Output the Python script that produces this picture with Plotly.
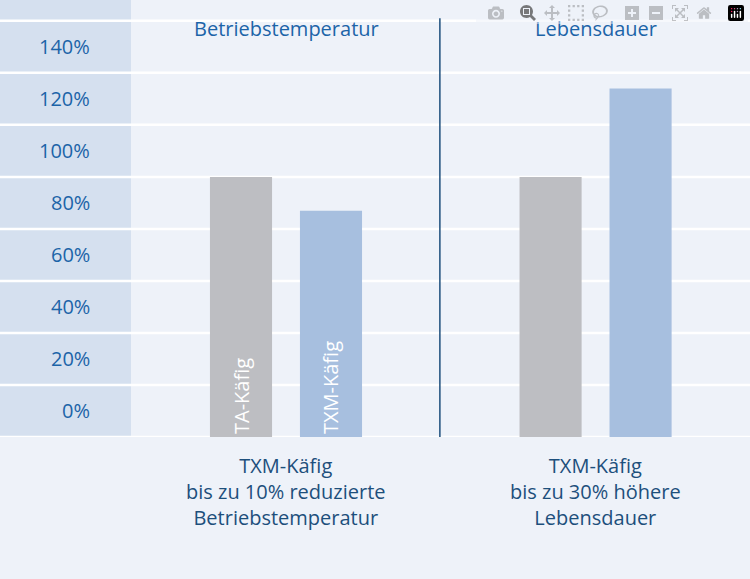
import plotly.graph_objects as go

# data
groups = ["Betriebstemperatur", "Lebensdauer"]
bar_pos = [0, 1, 3.44, 4.44]
bar_vals = [100, 87, 100, 134]
bar_colors = ["#bdbec2", "#a7bfdf", "#bdbec2", "#a7bfdf"]
bar_text = ["TA-Käfig", "TXM-Käfig", "", ""]
tick_vals = [0, 20, 40, 60, 80, 100, 120, 140]
tick_text = ["0%", "20%", "40%", "60%", "80%", "100%", "120%", "140%"]
group_centers = [0.5, 3.94]
bottom_text = [
    "TXM-Käfig<br>bis zu 10% reduzierte<br>Betriebstemperatur",
    "TXM-Käfig<br>bis zu 30% höhere<br>Lebensdauer",
]

BLUE = "#1c64a8"
DARK = "#1d4f7c"
FONT = "Open Sans"

fig = go.Figure()
fig.add_trace(go.Bar(
    x=bar_pos, y=bar_vals, width=0.69, marker=dict(color=bar_colors, line_width=0),
    text=bar_text, textposition="inside", insidetextanchor="start", textangle=-90,
    textfont=dict(color="white", size=20, family=FONT), hoverinfo="skip",
))

shapes = [
    dict(type="rect", xref="paper", yref="paper", x0=0, x1=131 / 750, y0=0, y1=1,
         fillcolor="#d5e0ef", line_width=0, layer="below"),
    dict(type="line", xref="x", yref="y", x0=2.21, x1=2.21, y0=0, y1=161,
         line=dict(color=DARK, width=1.5)),
]
for v in tick_vals + [160]:
    shapes.append(dict(type="line", xref="paper", yref="y", x0=0, x1=1, y0=v, y1=v,
                       line=dict(color="white", width=2.5), layer="below"))

annotations = []
for v, t in zip(tick_vals, tick_text):
    annotations.append(dict(xref="paper", yref="y", x=0.122, y=v + 10, text=t,
                            xanchor="right", showarrow=False,
                            font=dict(color=BLUE, size=20, family=FONT)))
for c, g in zip(group_centers, groups):
    annotations.append(dict(xref="x", yref="y", x=c, y=157, text=g, showarrow=False,
                            font=dict(color=BLUE, size=20, family=FONT)))
for c, t in zip(group_centers, bottom_text):
    annotations.append(dict(xref="x", yref="paper", x=c, y=-0.03, yanchor="top",
                            text=t, showarrow=False,
                            font=dict(color=DARK, size=20, family=FONT)))

fig.update_layout(
    width=750, height=579, autosize=False, margin=dict(l=0, r=0, t=0, b=142),
    paper_bgcolor="#eef2f9", plot_bgcolor="rgba(0,0,0,0)",
    showlegend=False, shapes=shapes, annotations=annotations,
    xaxis=dict(range=[-2.678, 5.656], visible=False),
    yaxis=dict(range=[0, 168], visible=False),
    font=dict(family=FONT),
)
fig.write_html("out.html", post_script="document.body.style.margin='0';")
